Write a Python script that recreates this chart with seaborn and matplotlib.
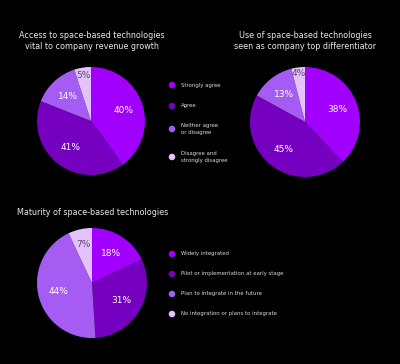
import matplotlib
matplotlib.use("Agg")
import matplotlib.pyplot as plt
import seaborn as sns
import pandas as pd

# ---- data ----
agree_labels = ["Strongly agree", "Agree", "Neither agree\nor disagree", "Disagree and\nstrongly disagree"]
revenue_values = [40, 41, 14, 5]
differentiator_values = [38, 45, 13, 4]
maturity_labels = ["Widely integrated", "Pilot or implementation at early stage",
                   "Plan to integrate in the future", "No integration or plans to integrate"]
maturity_values = [18, 31, 44, 7]
title_revenue = "Access to space-based technologies\nvital to company revenue growth"
title_diff = "Use of space-based technologies\nseen as company top differentiator"
title_maturity = "Maturity of space-based technologies"

sns.set_theme(style="dark", rc={"figure.facecolor": "black", "axes.facecolor": "black"})
plt.rcParams["font.family"] = ["DejaVu Sans"]

palette = sns.color_palette(["#A100FF", "#7500C0", "#A45CF2", "#E3C2FF"])

W, H = 400, 364
fig = plt.figure(figsize=(4.0, 3.64), dpi=100)
fig.patch.set_facecolor("black")


def box(cx, cy, r):
    return [(cx - r) / W, (H - cy - r) / H, 2 * r / W, 2 * r / H]


def draw_pie(rect, values, small_dist):
    ax = fig.add_axes(rect)
    wedges, texts, autotexts = ax.pie(values, colors=palette, startangle=90, counterclock=False,
                                      autopct=lambda p: f"{p:.0f}%", pctdistance=0.63, radius=1,
                                      wedgeprops=dict(linewidth=0),
                                      textprops=dict(color="white", fontsize=6.5))
    # small last slice label placed further out, darker text
    t = autotexts[-1]
    x, y = t.get_position()
    s = small_dist / 0.63
    t.set_position((x * s, y * s))
    t.set_color("#5b4a66")
    ax.set_xlim(-1, 1)
    ax.set_ylim(-1, 1)
    ax.set_aspect("equal")
    ax.axis("off")
    return ax


draw_pie(box(91, 121, 54), revenue_values, 0.85)
draw_pie(box(305, 122, 55), differentiator_values, 0.88)
draw_pie(box(92, 283, 55), maturity_values, 0.72)

# titles
fig.text(92 / W, 1 - 41 / H, title_revenue, ha="center", va="center", color="#e8e8e8",
         fontsize=5.8, linespacing=1.3)
fig.text(305 / W, 1 - 41 / H, title_diff, ha="center", va="center", color="#e8e8e8",
         fontsize=5.8, linespacing=1.3)
fig.text(17 / W, 1 - 212 / H, title_maturity, ha="left", va="center", color="#e8e8e8",
         fontsize=5.8)

# legends drawn on overlay axes in pixel coordinates
ov = fig.add_axes([0, 0, 1, 1])
ov.set_xlim(0, W)
ov.set_ylim(H, 0)
ov.axis("off")
ov.patch.set_alpha(0)

leg1 = pd.DataFrame({"label": agree_labels, "x": [172] * 4, "y": [85, 106, 129, 157]})
leg3 = pd.DataFrame({"label": maturity_labels, "x": [172] * 4, "y": [254, 274, 294, 314]})
for df in (leg1, leg3):
    sns.scatterplot(data=df, x="x", y="y", hue="label", palette=list(palette), s=22,
                    linewidth=0, legend=False, ax=ov)
    for _, row in df.iterrows():
        ov.text(row["x"] + 9, row["y"], row["label"], color="#d8d8d8", fontsize=3.9,
                va="center", ha="left", linespacing=1.3)
ov.set_xlim(0, W)
ov.set_ylim(H, 0)

fig.savefig("out.png", dpi=100, facecolor="black")
